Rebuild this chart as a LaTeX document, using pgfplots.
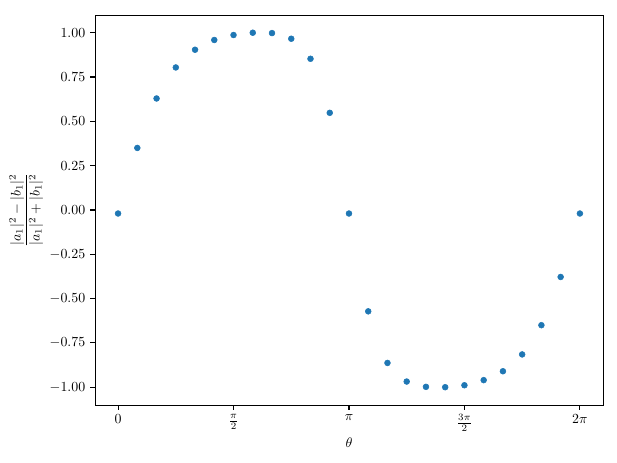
\documentclass[border=0pt]{standalone}
\usepackage{pgfplots}
\pgfplotsset{compat=1.18}
\definecolor{tabblue}{HTML}{1F77B4}
\begin{document}
\begin{tikzpicture}
\begin{axis}[
  name=ax,
  scale only axis,
  width=365.8pt, height=280.8pt,
  xmin=-0.314159, xmax=6.597345,
  ymin=-1.1, ymax=1.1,
  xtick={0,1.570796,3.141593,4.712389,6.283185},
  xticklabels={$0$,$\frac{\pi}{2}$,$\pi$,$\frac{3\pi}{2}$,$2\pi$},
  ytick={-1,-0.75,-0.5,-0.25,0,0.25,0.5,0.75,1},
  yticklabel style={/pgf/number format/.cd,fixed,fixed zerofill,precision=2},
  tick align=outside,
  tick pos=left,
  major tick length=3.5pt,
  every tick/.style={black, line width=0.8pt},
  axis line style={line width=0.6pt},
  xlabel={$\theta$},
  ylabel={$\displaystyle\frac{|a_1|^2-|b_1|^2}{|a_1|^2+|b_1|^2}$},
  xlabel style={yshift=2pt},
  ylabel style={yshift=-2pt},
]
\addplot[only marks, mark=*, mark size=2.1pt, color=tabblue, mark options={draw=tabblue, fill=tabblue}] coordinates {
(0,-0.02)
(0.261799,0.350)
(0.523599,0.629)
(0.785398,0.804)
(1.047198,0.904)
(1.308997,0.959)
(1.570796,0.987)
(1.832596,1.000)
(2.094395,0.998)
(2.356194,0.966)
(2.617994,0.853)
(2.879793,0.548)
(3.141593,-0.02)
(3.403392,-0.572)
(3.665191,-0.863)
(3.926991,-0.968)
(4.188790,-0.998)
(4.450590,-1.000)
(4.712389,-0.989)
(4.974188,-0.960)
(5.235988,-0.910)
(5.497787,-0.815)
(5.759587,-0.650)
(6.021386,-0.378)
(6.283185,-0.02)
};
\end{axis}
\path (ax.south west) ++(-68.4pt,-41.8pt) coordinate (bl);
\path (ax.north east) ++(10.1pt,10.8pt) coordinate (tr);
\path[draw=none] (bl) rectangle (tr);
\end{tikzpicture}
\end{document}
